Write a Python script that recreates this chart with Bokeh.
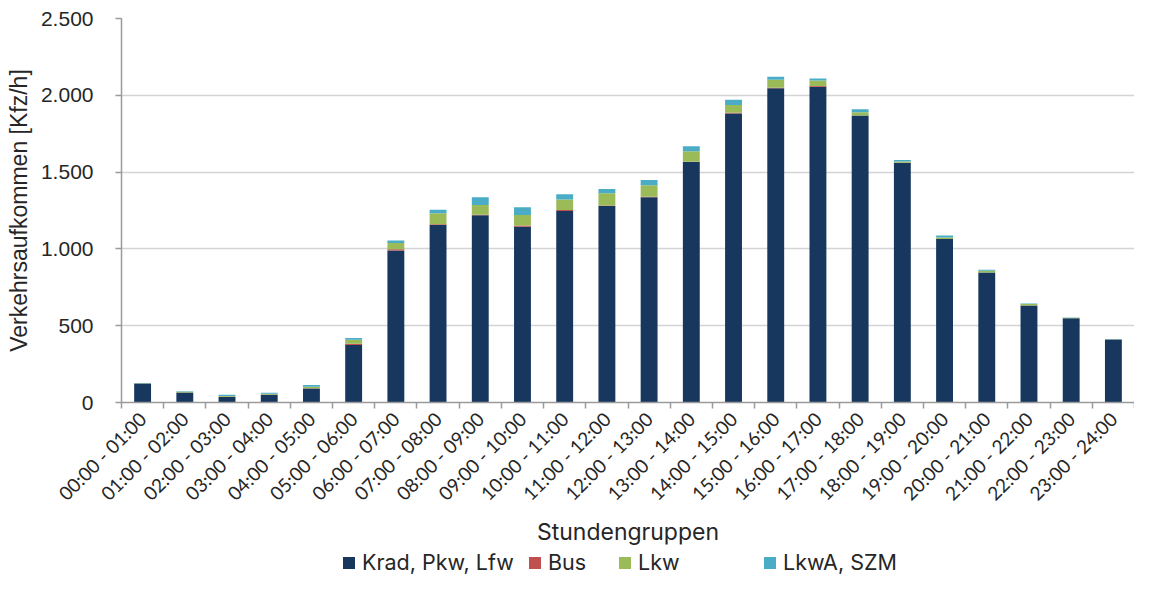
import math
from bokeh.plotting import figure
from bokeh.layouts import column
from bokeh.models import (ColumnDataSource, Range1d, FixedTicker, Legend, LegendItem)
from bokeh.embed import file_html
from bokeh.resources import INLINE

hours = ["00:00 - 01:00", "01:00 - 02:00", "02:00 - 03:00", "03:00 - 04:00",
         "04:00 - 05:00", "05:00 - 06:00", "06:00 - 07:00", "07:00 - 08:00",
         "08:00 - 09:00", "09:00 - 10:00", "10:00 - 11:00", "11:00 - 12:00",
         "12:00 - 13:00", "13:00 - 14:00", "14:00 - 15:00", "15:00 - 16:00",
         "16:00 - 17:00", "17:00 - 18:00", "18:00 - 19:00", "19:00 - 20:00",
         "20:00 - 21:00", "21:00 - 22:00", "22:00 - 23:00", "23:00 - 24:00"]

krad = [124, 65, 36, 51, 91, 375, 990, 1156, 1219, 1145, 1247, 1279,
        1336, 1565, 1881, 2046, 2056, 1868, 1560, 1064, 846, 631, 549, 410]
bus = [0, 0, 1, 1, 2, 8, 7, 4, 3, 7, 6, 3,
       3, 2, 5, 3, 4, 1, 1, 1, 1, 1, 0, 0]
lkw = [1, 5, 6, 5, 10, 25, 41, 72, 64, 68, 68, 80,
       75, 68, 51, 53, 36, 21, 8, 10, 10, 10, 3, 1]
lkwa = [2, 4, 8, 7, 11, 12, 17, 23, 51, 51, 35, 28,
        35, 34, 34, 19, 13, 19, 10, 13, 8, 2, 1, 2]

series_names = ["Krad, Pkw, Lfw", "Bus", "Lkw", "LkwA, SZM"]
series_colors = ["#17375E", "#C0504D", "#9BBB59", "#4BACC6"]

y_ticks = [0, 500, 1000, 1500, 2000, 2500]
y_tick_labels = ["0", "500", "1.000", "1.500", "2.000", "2.500"]

centers = [i + 0.5 for i in range(len(hours))]
source = ColumnDataSource(dict(x=centers, krad=krad, bus=bus, lkw=lkw, lkwa=lkwa))
stackers = ["krad", "bus", "lkw", "lkwa"]

p = figure(width=1134, height=548, output_backend="svg", toolbar_location=None,
           x_range=Range1d(0, len(hours)), y_range=Range1d(0, 2500))
p.min_border_top = 18
p.min_border_right = 0
p.min_border_left = 121
p.min_border_bottom = 145
p.outline_line_color = None

renderers = p.vbar_stack(stackers, x="x", width=0.4,
                         color=series_colors, line_color=None, source=source)

# y axis
p.yaxis.ticker = FixedTicker(ticks=y_ticks)
p.yaxis.major_label_overrides = dict(zip(y_ticks, y_tick_labels))
p.yaxis.axis_label = "Verkehrsaufkommen [Kfz/h]"
p.yaxis.axis_label_text_font = "Liberation Sans"
p.yaxis.axis_label_text_font_size = "23px"
p.yaxis.axis_label_text_font_style = "normal"
p.yaxis.axis_label_text_color = "#262626"
p.yaxis.major_label_text_font = "Liberation Sans"
p.yaxis.major_label_text_font_size = "21px"
p.yaxis.major_label_text_color = "#262626"
p.yaxis.axis_line_color = "#9a9a9a"
p.yaxis.axis_line_width = 1.5
p.yaxis.major_tick_line_color = "#9a9a9a"
p.yaxis.major_tick_line_width = 1.5
p.yaxis.major_tick_out = 6
p.yaxis.major_tick_in = 0
p.yaxis.minor_tick_line_color = None
p.yaxis.major_label_standoff = 22
p.yaxis.axis_label_standoff = 6

# x axis
p.xaxis.ticker = FixedTicker(ticks=centers, minor_ticks=list(range(len(hours) + 1)))
p.xaxis.major_label_overrides = dict(zip(centers, hours))
p.xaxis.major_label_orientation = math.pi / 4
p.xaxis.major_label_text_font = "Lato"
p.xaxis.major_label_text_font_size = "19px"
p.xaxis.major_label_text_color = "#262626"
p.xaxis.major_tick_line_color = None
p.xaxis.major_tick_out = 0
p.xaxis.major_tick_in = 0
p.xaxis.minor_tick_line_color = "#9a9a9a"
p.xaxis.minor_tick_line_width = 1.5
p.xaxis.minor_tick_out = 6
p.xaxis.minor_tick_in = 0
p.xaxis.axis_line_color = "#9a9a9a"
p.xaxis.axis_line_width = 1.5
p.xaxis.axis_label = "Stundengruppen"
p.xaxis.axis_label_text_font = "Inter"
p.xaxis.axis_label_text_font_size = "23px"
p.xaxis.axis_label_text_font_style = "normal"
p.xaxis.axis_label_text_color = "#262626"
p.xaxis.axis_label_standoff = 2
p.xaxis.major_label_standoff = 7

p.xgrid.grid_line_color = None
p.ygrid.ticker = FixedTicker(ticks=y_ticks)
p.ygrid.grid_line_color = "#d4d4d4"
p.ygrid.grid_line_width = 1.5

# legend strip below the chart (its frame is aligned with the chart's frame);
# the stacked bars here fall outside the visible range and only feed the swatches
lf = figure(width=1134, height=28, output_backend="svg", toolbar_location=None,
            x_range=Range1d(-3, -2), y_range=Range1d(0, 1),
            x_axis_location=None, y_axis_location=None)
lf.min_border = 0
lf.outline_line_color = None
lf.grid.visible = False
swatches = lf.vbar_stack(stackers, x="x", width=0.4,
                         color=series_colors, line_color=None, source=source)

legend_x = [220, 406, 496, 641]
for name, r, lx in zip(series_names, swatches, legend_x):
    lg = Legend(items=[LegendItem(label=name, renderers=[r])],
                orientation="horizontal", location=(lx, 1))
    lg.label_text_font = "Inter"
    lg.label_text_font_size = "21.5px"
    lg.label_text_color = "#262626"
    lg.glyph_width = 15
    lg.glyph_height = 15
    lg.label_standoff = 6
    lg.padding = 0
    lg.margin = 0
    lg.border_line_color = None
    lg.background_fill_alpha = 0
    lf.add_layout(lg)

layout = column(p, lf, spacing=0)
open("out.html", "w").write(file_html(layout, INLINE))
